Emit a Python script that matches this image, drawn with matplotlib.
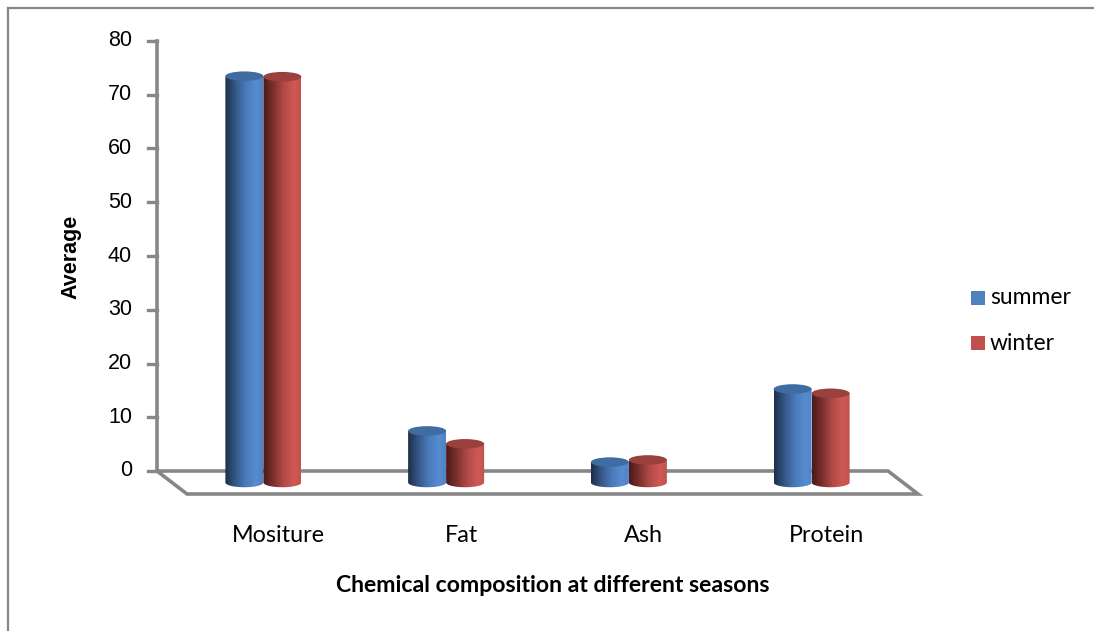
import numpy as np
import matplotlib
matplotlib.use("Agg")
import matplotlib.pyplot as plt
from matplotlib.patches import Ellipse, PathPatch, Rectangle
from matplotlib.path import Path
from matplotlib.lines import Line2D
from matplotlib.colors import LinearSegmentedColormap
from matplotlib import font_manager

# ---------------- data ----------------
categories = ["Mositure", "Fat", "Ash", "Protein"]
summer = [75.6, 9.6, 3.8, 17.4]
winter = [75.5, 7.2, 4.2, 16.6]
series_names = ["summer", "winter"]
yticks = [0, 10, 20, 30, 40, 50, 60, 70, 80]
x_title = "Chemical composition at different seasons"
y_title = "Average"

# ---------------- fonts ----------------
available = {f.name for f in font_manager.fontManager.ttflist}
def pick(*names):
    for n in names:
        if n in available:
            return n
    return "DejaVu Sans"
F_ARIAL = pick("Liberation Sans", "Arial", "DejaVu Sans")
F_CAL = pick("Lato", "Open Sans", "Noto Sans", "DejaVu Sans")
F_CALB = pick("Liberation Sans Narrow", "Lato", "DejaVu Sans")

# ---------------- figure / axes ----------------
W, H = 1094, 631
fig = plt.figure(figsize=(W / 100, H / 100), dpi=100)
ax = fig.add_axes([0, 0, 1, 1])

# geometry (category units horizontally, value units vertically)
px_per_cat = 182.75
px_per_val = 5.375
wall_left_px, zero_px = 157, 471
xlim = (-0.5 - wall_left_px / px_per_cat, -0.5 + (W - wall_left_px) / px_per_cat)
ylim = ((zero_px - H) / px_per_val, zero_px / px_per_val)
ax.set_xlim(*xlim)
ax.set_ylim(*ylim)
ax.axis("off")

n = len(categories)
depth_dx = 30 / px_per_cat
depth_dy = -23 / px_per_val
bar_w = 38 / px_per_cat
ell_h = 9.5 / px_per_val
grey = "#878787"

# floor (parallelogram) and back axis
x0, x1 = -0.5, n - 0.5
floor_x = [x0, x1, x1 + depth_dx, x0 + depth_dx, x0]
floor_y = [0, 0, depth_dy, depth_dy, 0]
ax.plot(floor_x, floor_y, color=grey, lw=2.6, solid_joinstyle="miter", zorder=1)
ax.plot([x0, x0], [0, max(yticks)], color=grey, lw=2.6, zorder=1)
tick_len = 9 / px_per_cat
for t in yticks:
    ax.plot([x0 - tick_len, x0], [t, t], color=grey, lw=2.4, zorder=1)
    ax.text(x0 - tick_len - 16 / px_per_cat, t, str(t), ha="right", va="center",
            fontsize=15.5, family=F_ARIAL, color="black")

# cylinders
blue_cm = LinearSegmentedColormap.from_list("b", [
    (0.0, (0.11, 0.18, 0.28)), (0.25, (0.20, 0.33, 0.51)), (0.55, (0.29, 0.48, 0.73)),
    (0.82, (0.34, 0.55, 0.82)), (1.0, (0.31, 0.51, 0.77))])
red_cm = LinearSegmentedColormap.from_list("r", [
    (0.0, (0.29, 0.10, 0.10)), (0.25, (0.47, 0.18, 0.17)), (0.55, (0.70, 0.29, 0.28)),
    (0.82, (0.81, 0.35, 0.34)), (1.0, (0.76, 0.32, 0.31))])
top_colors = ["#3e6ca3", "#9a403d"]
legend_colors = ["#4f81bd", "#c0504d"]
cmaps = [blue_cm, red_cm]
grad = np.linspace(0, 1, 256).reshape(1, -1)

base = depth_dy / 2
for s, vals in enumerate([summer, winter]):
    for i, v in enumerate(vals):
        cx = i + depth_dx / 2 + (s - 0.5) * bar_w
        left, right = cx - bar_w / 2, cx + bar_w / 2
        top = base + v
        th = np.linspace(np.pi, 2 * np.pi, 40)
        ex = cx + bar_w / 2 * np.cos(th)
        ey = base + ell_h / 2 * np.sin(th)
        verts = [(left, top)] + list(zip(ex, ey)) + [(right, top), (left, top)]
        codes = [Path.MOVETO] + [Path.LINETO] * (len(verts) - 2) + [Path.CLOSEPOLY]
        clip = PathPatch(Path(verts, codes), transform=ax.transData, fc="none", ec="none")
        im = ax.imshow(grad, cmap=cmaps[s], extent=[left, right, base - ell_h, top],
                       aspect="auto", interpolation="bilinear", zorder=3 + i * 2 + s * 0.5)
        im.set_clip_path(clip)
        ax.add_patch(Ellipse((cx, top), bar_w, ell_h, fc=top_colors[s], ec="none",
                             zorder=3.2 + i * 2 + s * 0.5))

ax.set_xlim(*xlim)
ax.set_ylim(*ylim)

# category labels at floor front
for i, c in enumerate(categories):
    ax.text(i + depth_dx, (zero_px - 535) / px_per_val, c, ha="center", va="center",
            fontsize=16.8, family=F_CAL, color="black")

# axis titles
fig.text(553 / W, 1 - 585 / H, x_title, ha="center", va="center", fontsize=16.6,
         family=F_CALB, fontweight="bold", color="black")
fig.text(71 / W, 1 - 257 / H, y_title, ha="center", va="center", rotation=90,
         fontsize=15.5, family=F_ARIAL, fontweight="bold", color="black")

# legend
for s, name in enumerate(series_names):
    yc = 1 - (298 + 45 * s) / H
    fig.add_artist(Rectangle((971 / W, yc - 7 / H), 14 / W, 14 / H,
                             transform=fig.transFigure, fc=legend_colors[s], ec="none"))
    fig.text(990 / W, yc, name, ha="left", va="center", fontsize=16.5, family=F_CAL,
             color="black")

# outer chart frame
fig.add_artist(Line2D([8 / W, 1.0], [1 - 8 / H, 1 - 8 / H], transform=fig.transFigure,
                      color=grey, lw=1.6))
fig.add_artist(Line2D([8 / W, 8 / W], [1 - 8 / H, 0], transform=fig.transFigure,
                      color=grey, lw=1.6))

fig.savefig("out.png", dpi=100, facecolor="white")
